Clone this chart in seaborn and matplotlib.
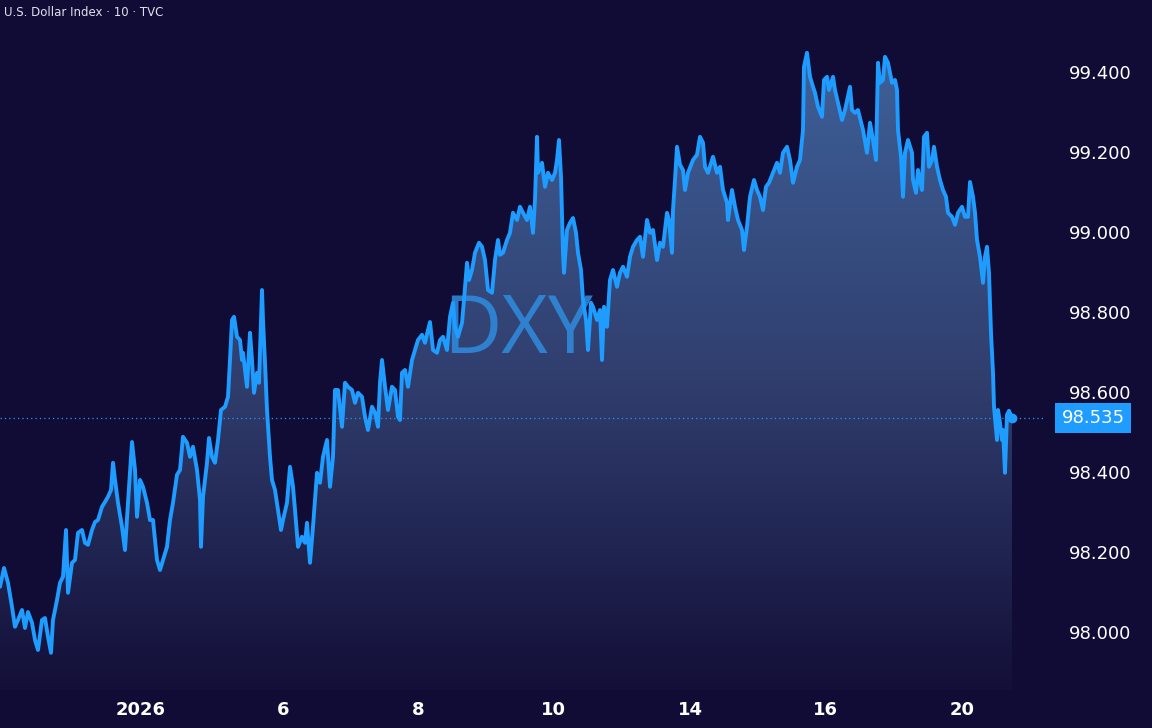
import numpy as np
import matplotlib
matplotlib.use("Agg")
import matplotlib.pyplot as plt
import seaborn as sns

# DXY, 10-minute bars (bar index along the chart, price)
bars = [0, 4, 8, 12, 15, 18, 22, 25, 28, 32, 35, 38, 42, 45, 48, 51, 53, 57, 60, 63,
        66, 68, 72, 75, 78, 82, 85, 88, 92, 95, 98, 102, 105, 108, 111, 113, 115, 118, 122, 125,
        128, 132, 135, 137, 140, 143, 147, 150, 153, 157, 160, 163, 167, 170, 173, 177, 180, 183, 187, 190,
        193, 197, 200, 201, 203, 207, 209, 212, 215, 218, 221, 225, 228, 230, 232, 234, 237, 240, 242, 243,
        247, 250, 252, 254, 257, 259, 262, 263, 265, 267, 270, 272, 275, 278, 281, 283, 287, 290, 293, 295,
        298, 302, 305, 307, 310, 313, 317, 320, 323, 327, 330, 333, 335, 338, 342, 345, 348, 352, 355, 358,
        362, 365, 368, 372, 375, 378, 380, 382, 385, 388, 392, 395, 398, 400, 402, 405, 408, 412, 415, 418,
        422, 425, 428, 430, 433, 437, 440, 443, 447, 450, 453, 455, 458, 462, 464, 467, 469, 472, 475, 479,
        482, 485, 488, 492, 495, 498, 500, 503, 507, 510, 513, 517, 520, 523, 527, 530, 533, 535, 537, 538,
        542, 545, 548, 552, 555, 557, 559, 561, 563, 564, 567, 570, 573, 576, 578, 581, 583, 586, 588, 591,
        593, 597, 600, 602, 604, 607, 610, 613, 617, 620, 623, 627, 630, 633, 637, 640, 643, 647, 650, 653,
        657, 660, 663, 667, 669, 672, 673, 675, 677, 680, 683, 685, 688, 693, 697, 700, 703, 705, 708, 713,
        717, 720, 723, 727, 728, 732, 735, 738, 742, 744, 747, 750, 754, 757, 760, 763, 766, 769, 773, 777,
        780, 783, 787, 790, 793, 797, 800, 803, 804, 807, 810, 813, 815, 818, 822, 824, 827, 829, 833, 835,
        838, 842, 845, 850, 852, 855, 858, 863, 867, 870, 873, 876, 878, 880, 883, 885, 888, 892, 895, 897,
        898, 901, 903, 905, 908, 912, 913, 916, 918, 922, 924, 927, 929, 932, 934, 937, 940, 943, 946, 948,
        952, 955, 958, 962, 965, 968, 970, 973, 975, 977, 980, 983, 985, 987, 989, 991, 993, 994, 997, 998,
        1000, 1002, 1003, 1005, 1007, 1009, 1012]

prices = [98.113, 98.160, 98.123, 98.063, 98.013, 98.030, 98.055, 98.010, 98.050, 98.023,
          97.980, 97.955, 98.030, 98.035, 97.988, 97.948, 98.030, 98.080, 98.123, 98.138,
          98.255, 98.098, 98.173, 98.180, 98.248, 98.255, 98.223, 98.218, 98.255, 98.275,
          98.280, 98.313, 98.325, 98.338, 98.355, 98.423, 98.380, 98.323, 98.263, 98.205,
          98.323, 98.475, 98.405, 98.288, 98.380, 98.363, 98.323, 98.280, 98.280, 98.180,
          98.155, 98.180, 98.213, 98.280, 98.323, 98.393, 98.405, 98.488, 98.473, 98.438,
          98.463, 98.405, 98.330, 98.213, 98.338, 98.423, 98.485, 98.438, 98.423, 98.480,
          98.555, 98.563, 98.588, 98.680, 98.780, 98.788, 98.738, 98.730, 98.680, 98.698,
          98.613, 98.748, 98.680, 98.598, 98.648, 98.623, 98.855, 98.780, 98.673, 98.555,
          98.438, 98.380, 98.355, 98.305, 98.255, 98.280, 98.323, 98.413, 98.363, 98.305,
          98.213, 98.238, 98.223, 98.273, 98.173, 98.263, 98.398, 98.373, 98.438, 98.480,
          98.363, 98.438, 98.605, 98.605, 98.513, 98.623, 98.613, 98.605, 98.573, 98.598,
          98.588, 98.538, 98.505, 98.563, 98.548, 98.513, 98.623, 98.680, 98.613, 98.555,
          98.613, 98.605, 98.538, 98.530, 98.648, 98.655, 98.613, 98.680, 98.705, 98.730,
          98.743, 98.723, 98.755, 98.775, 98.705, 98.698, 98.730, 98.738, 98.705, 98.788,
          98.823, 98.763, 98.738, 98.773, 98.830, 98.923, 98.880, 98.905, 98.948, 98.973,
          98.963, 98.930, 98.855, 98.848, 98.930, 98.980, 98.943, 98.948, 98.980, 98.998,
          99.048, 99.030, 99.063, 99.048, 99.030, 99.063, 98.998, 99.080, 99.238, 99.148,
          99.173, 99.113, 99.148, 99.130, 99.148, 99.180, 99.230, 99.138, 98.948, 98.898,
          99.005, 99.023, 99.035, 98.998, 98.948, 98.905, 98.830, 98.780, 98.705, 98.823,
          98.813, 98.780, 98.805, 98.680, 98.813, 98.763, 98.880, 98.905, 98.863, 98.898,
          98.913, 98.888, 98.938, 98.963, 98.980, 98.988, 98.938, 99.030, 98.998, 99.005,
          98.930, 98.973, 98.963, 99.048, 99.030, 98.948, 99.055, 99.130, 99.213, 99.168,
          99.155, 99.105, 99.148, 99.180, 99.193, 99.238, 99.223, 99.163, 99.148, 99.188,
          99.148, 99.163, 99.105, 99.073, 99.030, 99.105, 99.063, 99.030, 99.005, 98.955,
          99.013, 99.088, 99.130, 99.105, 99.088, 99.055, 99.113, 99.123, 99.148, 99.173,
          99.148, 99.198, 99.213, 99.180, 99.123, 99.163, 99.180, 99.255, 99.413, 99.448,
          99.388, 99.363, 99.348, 99.313, 99.288, 99.380, 99.388, 99.355, 99.388, 99.355,
          99.323, 99.280, 99.305, 99.363, 99.305, 99.298, 99.305, 99.255, 99.198, 99.273,
          99.230, 99.180, 99.423, 99.373, 99.380, 99.438, 99.423, 99.373, 99.380, 99.355,
          99.255, 99.188, 99.088, 99.198, 99.230, 99.198, 99.130, 99.098, 99.155, 99.105,
          99.238, 99.248, 99.163, 99.180, 99.213, 99.163, 99.130, 99.105, 99.088, 99.048,
          99.038, 99.018, 99.048, 99.063, 99.038, 99.038, 99.125, 99.088, 99.048, 98.980,
          98.938, 98.873, 98.938, 98.963, 98.898, 98.748, 98.648, 98.563, 98.480, 98.555,
          98.523, 98.480, 98.505, 98.398, 98.543, 98.553, 98.535]

price_ticks = [98.0, 98.2, 98.4, 98.6, 98.8, 99.0, 99.2, 99.4]
day_ticks = [141, 283, 418, 553, 690, 825, 962]
day_labels = ["2026", "6", "8", "10", "14", "16", "20"]
last_price = 98.535

bg = "#100c36"
blue = "#1e9cff"

sns.set_theme(style="dark")
plt.rcParams["font.family"] = ["DejaVu Sans"]

fig = plt.figure(figsize=(11.52, 7.28), dpi=100, facecolor=bg)
ax = fig.add_axes([0, 38 / 728, 1045 / 1152, 690 / 728])
ax.set_facecolor(bg)
ymin, ymax = 97.855, 99.58
ax.set_xlim(0, 1045)
ax.set_ylim(ymin, ymax)

# gradient area under the line, fading into the background
poly = ax.fill_between(bars, prices, ymin, color="none", lw=0)
grad = np.zeros((256, 1, 4))
top = np.array([64, 102, 160]) / 255
mid = np.array([48, 62, 110]) / 255
bottom = np.array([19, 15, 56]) / 255
t = np.linspace(0, 1, 256)
for i, f in enumerate(t):
    if f < 0.55:
        c = top * (1 - f / 0.55) + mid * (f / 0.55)
    else:
        g = (f - 0.55) / 0.45
        c = mid * (1 - g) + bottom * g
    grad[i, 0, :3] = c
grad[:, 0, 3] = 1
img = ax.imshow(grad, extent=[0, bars[-1], ymin, ymax], aspect="auto",
                origin="upper", zorder=1)
img.set_clip_path(poly.get_paths()[0], transform=ax.transData)

# watermark
ax.text(518, 98.75, "DXY", color="#2f8de0", alpha=0.85, fontsize=58,
        family="Open Sans", ha="center", va="center", zorder=2)

# last price dotted line
ax.axhline(last_price, color=blue, lw=0.9, ls=(0, (1, 2.5)), zorder=2)

sns.lineplot(x=bars, y=prices, ax=ax, color=blue, linewidth=2.8,
             estimator=None, sort=False, zorder=3)
ax.plot([bars[-1]], [prices[-1]], "o", color=blue, ms=6, zorder=4)

ax.grid(False)
for s in ax.spines.values():
    s.set_visible(False)

ax.yaxis.tick_right()
ax.set_yticks(price_ticks)
ax.set_yticklabels([f"{v:.3f}" for v in price_ticks])
ax.tick_params(axis="y", length=0, pad=17, labelsize=13, labelcolor="white")
ax.set_xticks(day_ticks)
ax.set_xticklabels(day_labels)
ax.tick_params(axis="x", length=0, pad=8, labelsize=13, labelcolor="white")
for lab in ax.get_xticklabels():
    lab.set_fontweight("bold")
for lab in ax.get_yticklabels():
    lab.set_fontweight("medium")
ax.set_xlabel("")
ax.set_ylabel("")

# price box
ax.text(1093 / 1045, last_price, "98.535", transform=ax.get_yaxis_transform(),
        ha="center", va="center", fontsize=13, color="white", zorder=5,
        bbox=dict(boxstyle="square,pad=0.35", fc=blue, ec="none"),
        clip_on=False)

fig.text(4 / 1152, 1 - 13 / 728, "U.S. Dollar Index · 10 · TVC", color="#e0e0ee",
         fontsize=8.5, ha="left", va="center")

fig.savefig("out.png", dpi=100, facecolor=bg)
